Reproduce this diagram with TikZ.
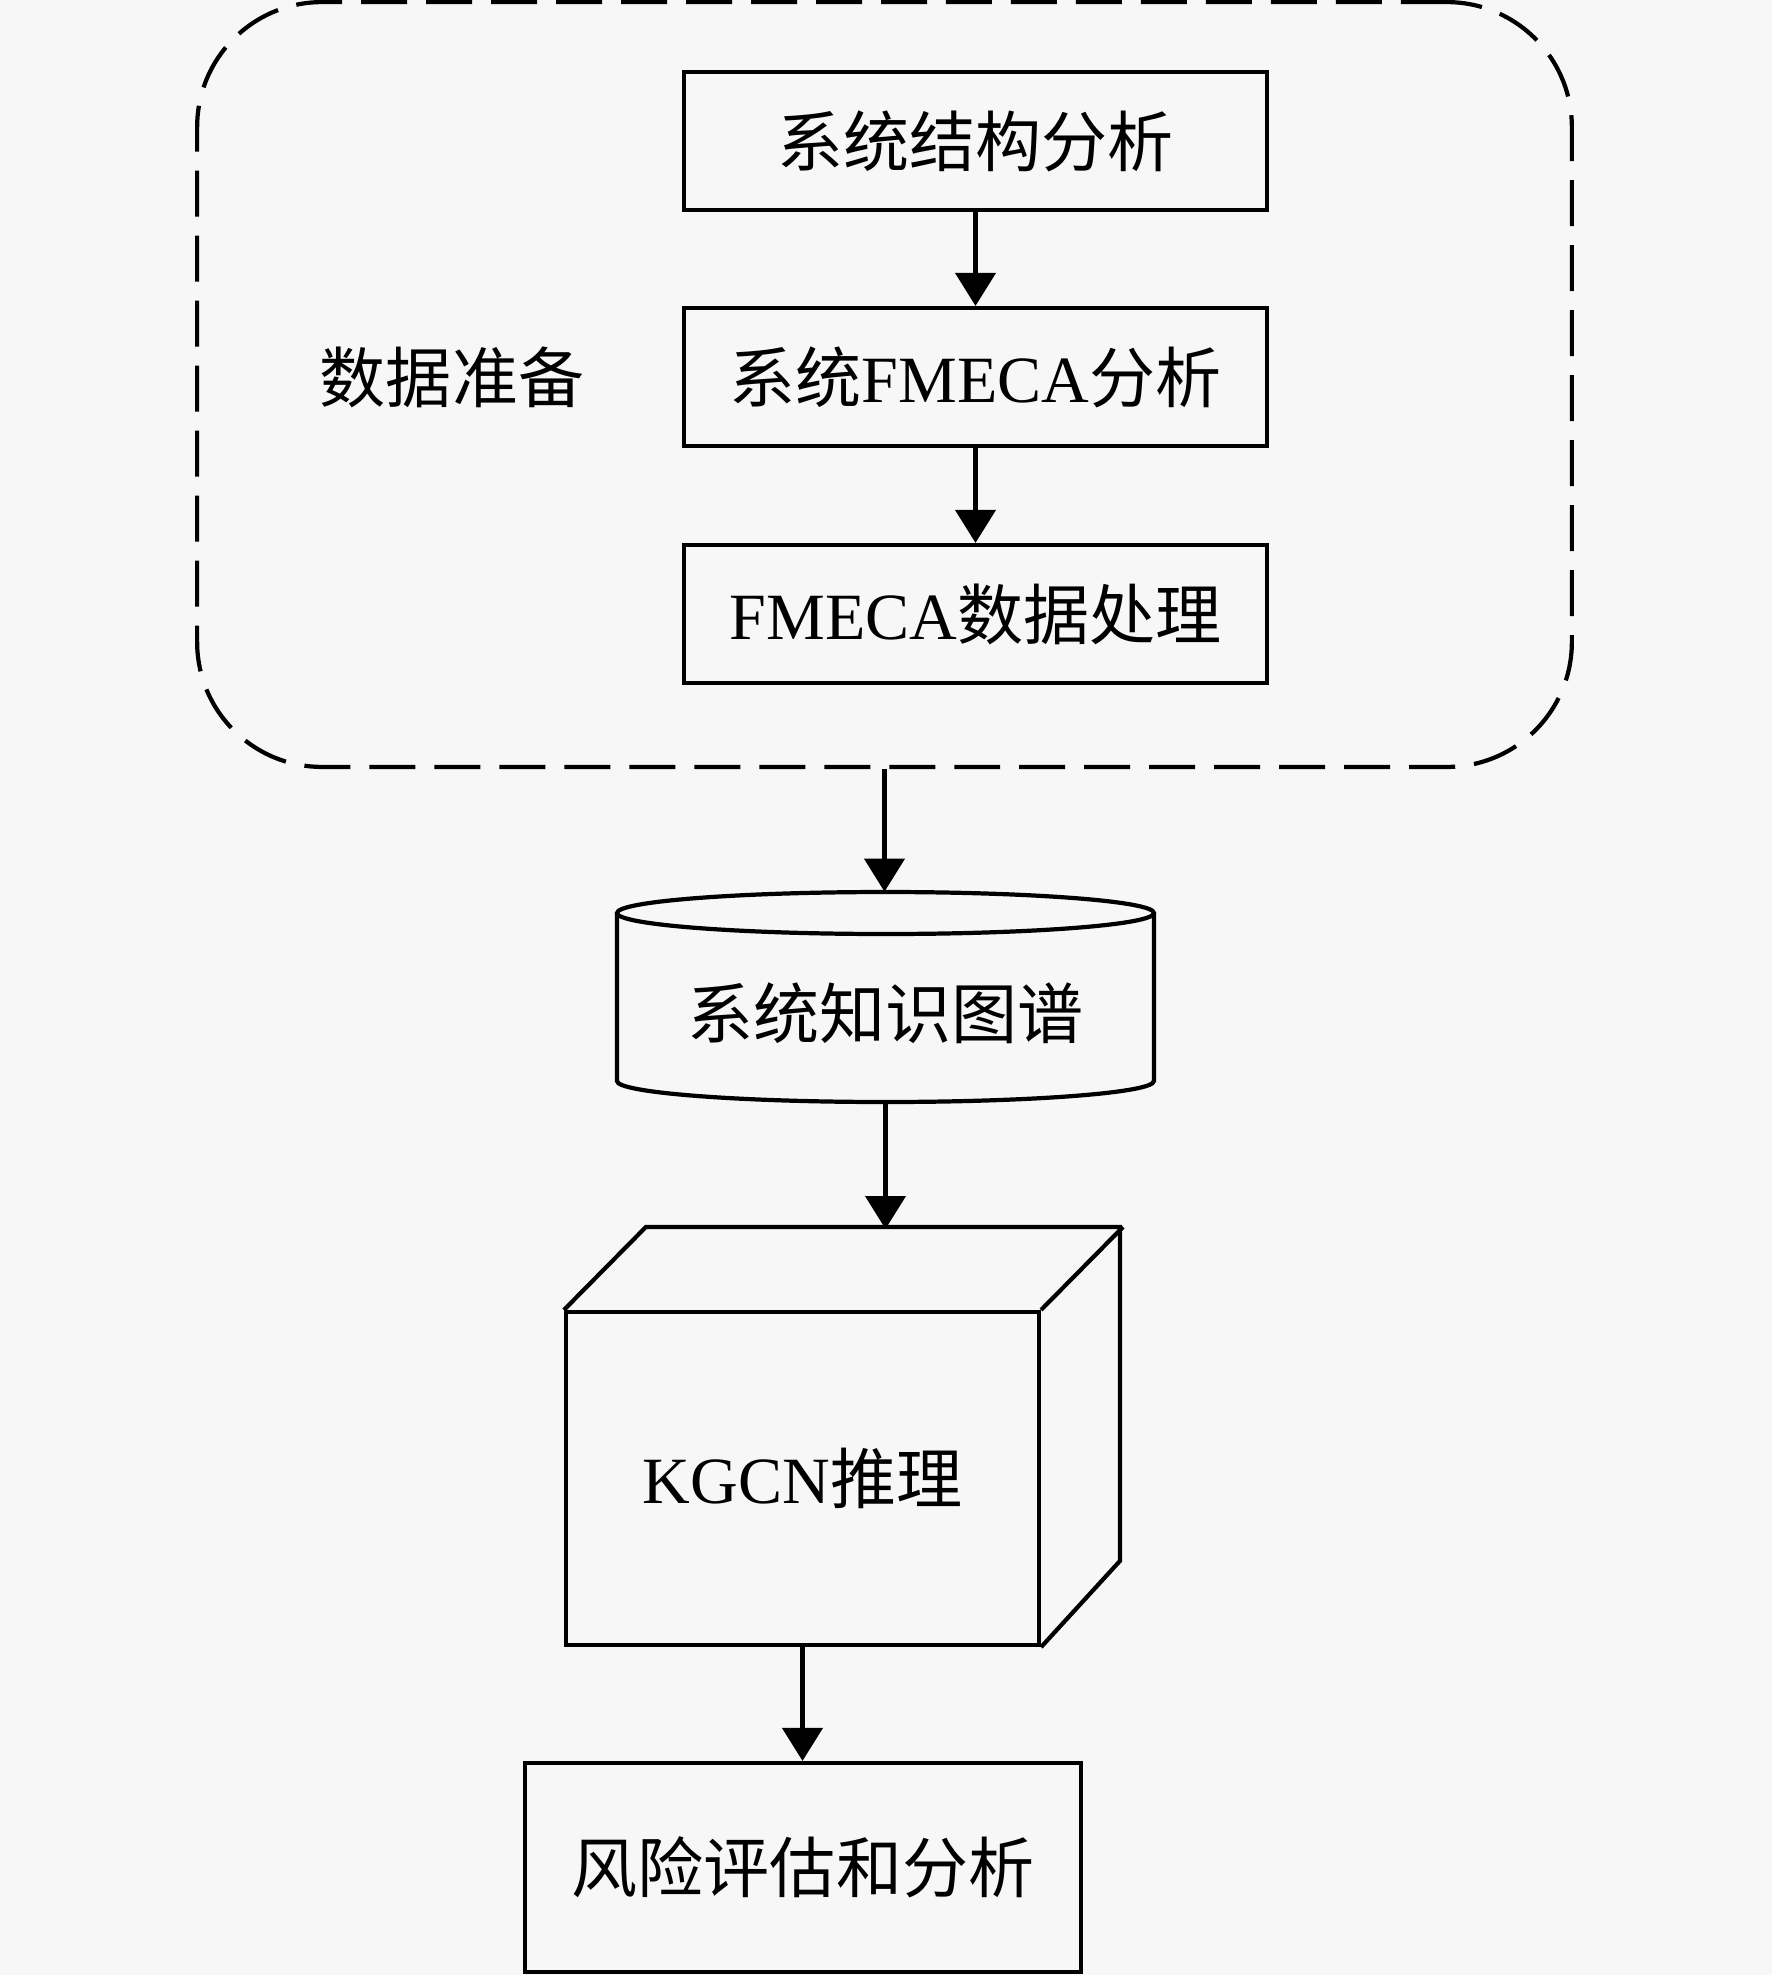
\documentclass[tikz,border=0pt]{standalone}
\usepackage{fontspec}
\setmainfont{Liberation Serif}
\newfontfamily\cjk{Noto Sans CJK SC}
\usetikzlibrary{arrows.meta}
\definecolor{bgc}{HTML}{F7F7F7}
\begin{document}
\begin{tikzpicture}[x=0.02cm,y=-0.02cm,
  every node/.style={font=\fontsize{37.6}{40}\selectfont, inner sep=0pt},
  boxstyle/.style={draw, line width=2.4pt, minimum width=11.66cm, minimum height=2.76cm},
  flow/.style={line width=2.4pt, -{Triangle[length=0.66cm,width=0.8cm]}},
  shapeline/.style={line width=2.4pt, line join=miter}
]
\fill[bgc] (0,0) rectangle (1772,1975);
\useasboundingbox (0,0) rectangle (1772,1975);

% data preparation group
\node[draw, line width=2.4pt, dash pattern=on 0.92cm off 0.38cm, rounded corners=2.5cm,
      minimum width=27.5cm, minimum height=15.3cm] (prep) at (884.5,384.5) {};
\node (preplabel) at (452,377) {\cjk 数据准备};

\node[boxstyle] (b1) at (975.5,141) {\cjk 系统结构分析};
\node[boxstyle] (b2) at (975.5,377) {{\cjk 系统}FMECA{\cjk 分析}};
\node[boxstyle] (b3) at (975.5,614) {FMECA{\cjk 数据处理}};

\draw[flow] (b1) -- (b2);
\draw[flow] (b2) -- (b3);

% knowledge graph cylinder
\node[minimum width=10.74cm, minimum height=4.2cm] (kg) at (885.5,997) {};
\node (kgtext) at (885.5,1013) {\cjk 系统知识图谱};
\draw[shapeline] (617,913) -- (617,1081)
  arc[start angle=180, end angle=360, x radius=5.37cm, y radius=0.42cm] -- (1154,913);
\draw[shapeline] (885.5,913) ellipse[x radius=5.37cm, y radius=0.42cm];

\draw[flow] (prep.south) -- (prep.south |- kg.north);

% KGCN cube
\node[draw, line width=2.4pt, minimum width=9.46cm, minimum height=6.66cm] (kgcn) at (802.5,1478.5) {KGCN{\cjk 推理}};
\draw[shapeline] (kgcn.north west) -- ++(82,-83) -- ++(474,0) -- ++(0,334) -- (kgcn.south east);
\draw[shapeline] (kgcn.north east) -- ++(82,-83);
\coordinate (cubetop) at (885.5,1229);

\draw[flow] (kg.south) -- (cubetop);

% risk assessment
\node[draw, line width=2.4pt, minimum width=11.12cm, minimum height=4.18cm] (risk) at (803,1867.5) {\cjk 风险评估和分析};

\draw[flow] (kgcn.south) -- (kgcn.south |- risk.north);
\end{tikzpicture}
\end{document}
